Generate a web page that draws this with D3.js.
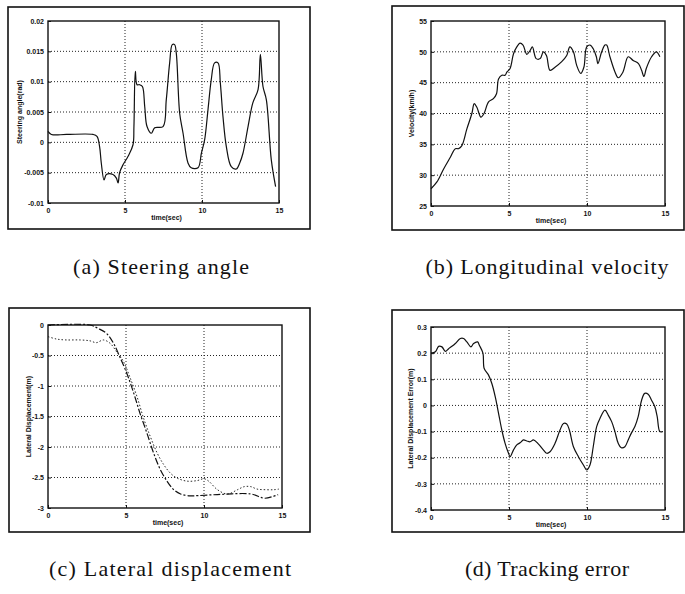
<!DOCTYPE html>
<meta charset="utf-8">
<head>
<script type="text/javascript" src="https://cdn.jsdelivr.net/npm/d3@7"></script>
<style>
  body { margin: 0; background: #fff; }
  .tick-lbl { font-family: Arial, "Liberation Sans", sans-serif; font-weight: bold; font-size: 7px; fill: #111; }
  .caption { font-family: "Liberation Serif", "DejaVu Serif", serif; font-size: 22px; fill: #111; }
</style>
</head>
<body>
<script>
// ---- data ----
var timeTicks = [0, 5, 10, 15];

// (a) steering angle, [time(sec), rad]
var steerTicks = [-0.01, -0.005, 0, 0.005, 0.01, 0.015, 0.02];
var steerTickLabels = ["-0.01", "-0.005", "0", "0.005", "0.01", "0.015", "0.02"];
var steering = [[0,0.0018],[0.22,0.0013],[1.2,0.0013],[2.92,0.0013],[3.18,0.001],[3.35,-0.0007],[3.46,-0.0034],
  [3.64,-0.0062],[3.79,-0.0053],[4.22,-0.0053],[4.44,-0.0059],[4.55,-0.0067],[4.65,-0.005],[4.87,-0.0037],
  [5.2,-0.0023],[5.52,-0.0004],[5.58,0.0026],[5.67,0.0117],[5.78,0.0095],[5.95,0.0095],[6.13,0.0092],
  [6.28,0.0059],[6.43,0.0026],[6.71,0.0015],[6.93,0.0024],[7.47,0.0026],[7.68,0.007],[7.9,0.0131],
  [8.07,0.0161],[8.22,0.0161],[8.33,0.0147],[8.55,0.0048],[8.77,0.0015],[9.09,-0.0034],[9.3,-0.0042],
  [9.74,-0.0042],[9.96,-0.0018],[10.17,0.0004],[10.39,0.0054],[10.6,0.0103],[10.82,0.0131],[11.04,0.0131],
  [11.19,0.0098],[11.36,0.0043],[11.58,-0.0007],[11.9,-0.004],[12.23,-0.0044],[12.45,-0.0034],[12.66,-0.0018],
  [12.99,0.0026],[13.3,0.0065],[13.64,0.0087],[13.79,0.0145],[13.96,0.0092],[14.18,0.007],[14.5,-0.0029],[14.78,-0.0073]];

// (b) longitudinal velocity, [time(sec), km/h]
var velTicks = [25, 30, 35, 40, 45, 50, 55];
var velocity = [[0,27.8],[0.38,28.9],[0.81,31],[1.24,32.9],[1.56,34.3],[1.77,34.3],[1.98,34.8],[2.3,37.5],
  [2.62,40],[2.77,41.6],[2.94,41],[3.2,39.4],[3.4,40],[3.69,41.9],[4.0,42.4],[4.2,43.2],[4.33,45.6],
  [4.54,46.2],[4.75,46.2],[4.86,46.7],[5.07,47.3],[5.29,49.7],[5.5,50.8],[5.7,51.4],[5.9,51.1],[6.14,49.6],
  [6.35,50.2],[6.5,50.8],[6.74,48.9],[7.0,48.9],[7.2,50],[7.4,49.4],[7.63,47],[7.95,47.5],[8.38,48.4],
  [8.7,49.4],[8.9,50.8],[9.13,50],[9.34,47.8],[9.6,46.5],[9.8,47.5],[9.98,50.8],[10.2,51.1],[10.4,50.5],
  [10.6,49.2],[10.7,48.1],[10.94,50],[11.15,51.1],[11.26,51.1],[11.47,49.2],[11.8,46.7],[12.0,45.8],
  [12.3,46.7],[12.64,49.2],[12.96,48.6],[13.3,48.1],[13.5,47],[13.65,46],[13.8,47.3],[14.14,49.2],
  [14.45,50],[14.67,49.2]];

// (c) lateral displacement, [time(sec), m]
var latTicks = [-3, -2.5, -2, -1.5, -1, -0.5, 0];
var latTickLabels = ["-3", "-2.5", "-2", "-1.5", "-1", "-0.5", "0"];
var latDesired = [[0,0],[2.7,0],[3.2,-0.055],[3.76,-0.14],[4.2,-0.3],[4.6,-0.52],[5.05,-0.79],[5.5,-1.12],
  [5.9,-1.45],[6.34,-1.77],[6.77,-2.1],[7.2,-2.37],[7.63,-2.56],[8.06,-2.7],[8.5,-2.77],[9.1,-2.8],
  [9.35,-2.8],[10.85,-2.78],[13,-2.77],[13.9,-2.84],[14.75,-2.78]];
var latActual = [[0,-0.19],[0.54,-0.23],[1.18,-0.245],[2.04,-0.245],[2.7,-0.26],[3.1,-0.29],[3.55,-0.245],
  [3.98,-0.3],[4.4,-0.44],[4.84,-0.6],[5.27,-0.87],[5.7,-1.17],[6.13,-1.53],[6.56,-1.83],[7.0,-2.1],
  [7.42,-2.29],[7.85,-2.43],[8.28,-2.51],[8.92,-2.56],[9.57,-2.55],[10.0,-2.52],[10.3,-2.56],[10.86,-2.7],
  [11.5,-2.77],[12.15,-2.7],[12.58,-2.65],[13.0,-2.65],[13.4,-2.69],[13.95,-2.7],[14.5,-2.7],[14.8,-2.69]];

// (d) tracking error, [time(sec), m]
var errTicks = [-0.4, -0.3, -0.2, -0.1, 0, 0.1, 0.2, 0.3];
var errTickLabels = ["-0.4", "-0.3", "-0.2", "-0.1", "0", "0.1", "0.2", "0.3"];
var trackErr = [[0,0.2],[0.28,0.205],[0.49,0.226],[0.7,0.224],[0.92,0.207],[1.13,0.217],[1.34,0.226],
  [1.56,0.237],[1.88,0.256],[2.09,0.256],[2.3,0.243],[2.56,0.224],[2.73,0.237],[2.99,0.243],[3.1,0.23],
  [3.33,0.2],[3.41,0.141],[3.69,0.116],[3.9,0.084],[4.12,0.033],[4.33,-0.03],[4.54,-0.094],[4.75,-0.145],
  [4.97,-0.183],[5.07,-0.196],[5.29,-0.17],[5.5,-0.151],[5.71,-0.143],[5.93,-0.132],[6.14,-0.136],
  [6.35,-0.139],[6.57,-0.132],[6.89,-0.148],[7.2,-0.17],[7.42,-0.183],[7.63,-0.177],[7.95,-0.145],
  [8.27,-0.094],[8.49,-0.069],[8.7,-0.071],[8.87,-0.094],[9.13,-0.158],[9.45,-0.196],[9.77,-0.228],
  [9.98,-0.247],[10.19,-0.228],[10.4,-0.158],[10.62,-0.081],[10.83,-0.05],[11.15,-0.018],[11.36,-0.037],
  [11.58,-0.062],[11.79,-0.1],[12.0,-0.145],[12.2,-0.162],[12.43,-0.158],[12.64,-0.132],[12.86,-0.104],
  [13.07,-0.081],[13.28,-0.043],[13.5,0.02],[13.7,0.046],[13.92,0.043],[14.14,0.02],[14.35,-0.005],
  [14.5,-0.043],[14.67,-0.1],[14.84,-0.1]];

var captions = ["(a) Steering angle", "(b) Longitudinal velocity", "(c) Lateral displacement", "(d) Tracking error"];

// ---- drawing ----
var svg = d3.select("body").append("svg")
    .attr("width", 685)
    .attr("height", 594);

function drawPanel(p) {
  var g = svg.append("g");

  // outer frame
  g.append("rect")
    .attr("x", p.frame[0]).attr("y", p.frame[1])
    .attr("width", p.frame[2] - p.frame[0]).attr("height", p.frame[3] - p.frame[1])
    .attr("fill", "none").attr("stroke", "#111").attr("stroke-width", 1.6);

  var x = d3.scaleLinear().domain([0, 15]).range([p.plot[0], p.plot[2]]);
  var y = d3.scaleLinear().domain(p.ydom).range([p.plot[3], p.plot[1]]);

  // dotted grid
  g.selectAll(".vg").data(timeTicks.slice(1, -1)).enter().append("line")
    .attr("x1", d => x(d)).attr("x2", d => x(d))
    .attr("y1", p.plot[1]).attr("y2", p.plot[3])
    .attr("stroke", "#222").attr("stroke-width", 1).attr("stroke-dasharray", "1,2");
  g.selectAll(".hg").data(p.yticks.slice(1, -1)).enter().append("line")
    .attr("x1", p.plot[0]).attr("x2", p.plot[2])
    .attr("y1", d => y(d)).attr("y2", d => y(d))
    .attr("stroke", "#222").attr("stroke-width", 1).attr("stroke-dasharray", "1,2");

  // axes
  var xAxis = d3.axisBottom(x).tickValues(timeTicks).tickSize(-3).tickPadding(5);
  var yAxis = d3.axisLeft(y).tickValues(p.yticks).tickSize(-3).tickPadding(4)
    .tickFormat((d, i) => p.ylabels[i]);
  var gx = g.append("g").attr("transform", "translate(0," + p.plot[3] + ")").call(xAxis);
  var gy = g.append("g").attr("transform", "translate(" + p.plot[0] + ",0)").call(yAxis);
  [gx, gy].forEach(function (a) {
    a.select(".domain").remove();
    a.selectAll("line").attr("stroke", "#111");
    a.selectAll("text").attr("class", "tick-lbl").attr("font-size", null).attr("font-family", null);
  });

  g.append("rect")
    .attr("x", p.plot[0]).attr("y", p.plot[1])
    .attr("width", p.plot[2] - p.plot[0]).attr("height", p.plot[3] - p.plot[1])
    .attr("fill", "none").attr("stroke", "#111").attr("stroke-width", 1.4);

  // axis labels
  g.append("text").attr("class", "tick-lbl")
    .attr("x", (p.plot[0] + p.plot[2]) / 2 + 3).attr("y", p.plot[3] + 17)
    .attr("text-anchor", "middle").text("time(sec)");
  g.append("text").attr("class", "tick-lbl")
    .attr("transform", "translate(" + p.ylabX + "," + (p.plot[1] + p.plot[3]) / 2 + ") rotate(-90)")
    .attr("text-anchor", "middle").text(p.ytitle);

  // curves
  var line = d3.line().x(d => x(d[0])).y(d => y(d[1])).curve(d3.curveCatmullRom.alpha(0.5));
  p.series.forEach(function (s) {
    g.append("path").datum(s.data)
      .attr("d", line)
      .attr("fill", "none").attr("stroke", "#111")
      .attr("stroke-width", s.width || 1.2)
      .attr("stroke-dasharray", s.dash || null);
  });

  svg.append("text").attr("class", "caption")
    .attr("x", p.cap[0]).attr("y", p.cap[1])
    .attr("text-anchor", "middle")
    .attr("textLength", p.capW).attr("lengthAdjust", "spacing")
    .text(p.caption);
}

drawPanel({frame: [8, 7, 310, 229], plot: [48, 21, 279, 203], ydom: [-0.01, 0.02],
  yticks: steerTicks, ylabels: steerTickLabels, ytitle: "Steering angle(rad)", ylabX: 22,
  series: [{data: steering}], caption: captions[0], cap: [161, 274], capW: 176});

drawPanel({frame: [392, 6, 684, 230], plot: [431, 21, 665, 206], ydom: [25, 55],
  yticks: velTicks, ylabels: velTicks.map(String), ytitle: "Velocity(km/h)", ylabX: 414,
  series: [{data: velocity}], caption: captions[1], cap: [547, 274], capW: 243});

drawPanel({frame: [9, 308, 310, 532], plot: [48, 325, 282, 508], ydom: [-3, 0],
  yticks: latTicks, ylabels: latTickLabels, ytitle: "Lateral Displacement(m)", ylabX: 31,
  series: [{data: latDesired, dash: "7,2,2,2"}, {data: latActual, dash: "1.5,2", width: 0.9}],
  caption: captions[2], cap: [170, 576], capW: 242});

drawPanel({frame: [392, 310, 684, 532], plot: [431, 327, 665, 510], ydom: [-0.4, 0.3],
  yticks: errTicks, ylabels: errTickLabels, ytitle: "Lateral Displacement Error(m)", ylabX: 413,
  series: [{data: trackErr}], caption: captions[3], cap: [547, 576], capW: 164});
</script>
</body>
</html>
